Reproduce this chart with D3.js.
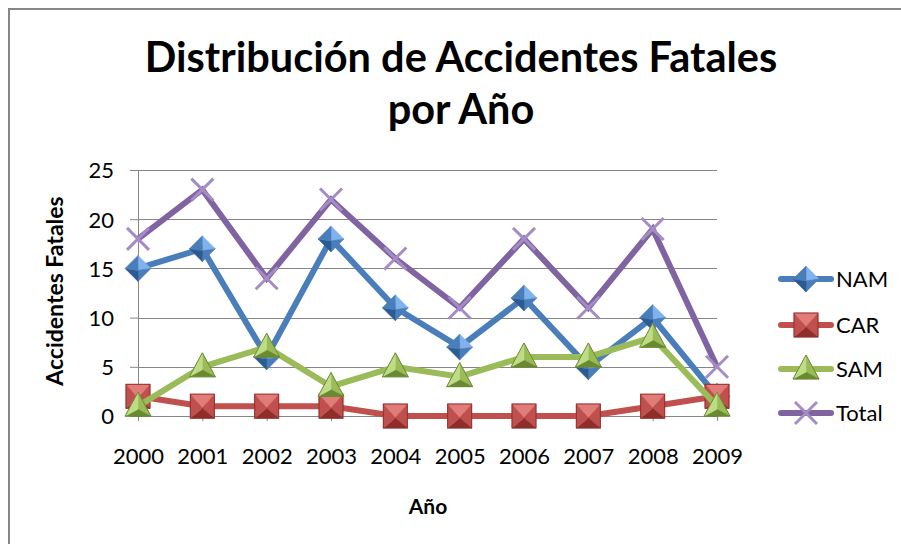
<!DOCTYPE html>
<html>
<head>
<meta charset="utf-8">
<script src="https://cdn.jsdelivr.net/npm/d3@7"></script>
<style>
  body { margin: 0; background: #fff; }
  svg text { font-family: Lato, "Open Sans", sans-serif; fill: #000; }
</style>
</head>
<body>
<svg id="chart" width="901" height="544"></svg>
<script>
// data
var years = ["2000", "2001", "2002", "2003", "2004", "2005", "2006", "2007", "2008", "2009"];
var nam   = [15, 17, 6, 18, 11, 7, 12, 5, 10, 2];
var car   = [2, 1, 1, 1, 0, 0, 0, 0, 1, 2];
var sam   = [1, 5, 7, 3, 5, 4, 6, 6, 8, 1];
var total = [18, 23, 14, 22, 16, 11, 18, 11, 19, 5];
var yTicks = [0, 5, 10, 15, 20, 25];

var series = [
  {name: "NAM",   values: nam,   color: "#4a7ebb", light: "#80b2ec", dark: "#2c5a92", marker: "diamond"},
  {name: "CAR",   values: car,   color: "#c0504d", light: "#e27c78", dark: "#8e2d2a", marker: "square"},
  {name: "SAM",   values: sam,   color: "#9bbb59", light: "#bedb86", dark: "#6a8a30", marker: "triangle"},
  {name: "Total", values: total, color: "#8064a2", light: "#a58cc4", dark: "#5e4680", marker: "x"}
];

var marg = {left: 138, right: 717, top: 170, bot: 416};
var svg = d3.select("#chart");

// outer chart border
svg.append("rect")
  .attr("x", 9).attr("y", 9).attr("width", 900).attr("height", 560)
  .attr("fill", "none").attr("stroke", "#868686").attr("stroke-width", 2);

var x = d3.scalePoint().domain(years).range([marg.left, marg.right]);
var y = d3.scaleLinear().domain([0, 25]).range([marg.bot, marg.top]);

// gridlines + y axis
var yAxis = d3.axisLeft(y).tickValues(yTicks).tickSize(8).tickPadding(16);
var yg = svg.append("g").attr("transform", "translate(" + marg.left + ",0)").call(yAxis);
yg.select(".domain").attr("stroke", "#868686");
yg.selectAll(".tick line").attr("stroke", "#868686");
yg.selectAll(".tick text").style("font-size", "22px").attr("dy", "0.36em");

svg.append("g").selectAll("line")
  .data(yTicks.filter(function(d) { return d > 0; }))
  .enter().append("line")
  .attr("x1", marg.left).attr("x2", marg.right)
  .attr("y1", function(d) { return Math.round(y(d)) + 0.5; })
  .attr("y2", function(d) { return Math.round(y(d)) + 0.5; })
  .attr("stroke", "#868686").attr("stroke-width", 1);

// x axis
var xAxis = d3.axisBottom(x).tickSize(5).tickPadding(27).tickSizeOuter(0);
var xg = svg.append("g").attr("transform", "translate(0," + marg.bot + ")").call(xAxis);
xg.select(".domain").attr("stroke", "#868686");
xg.selectAll(".tick line").attr("stroke", "#868686");
xg.selectAll(".tick text").style("font-size", "22px");

// titles
var title = svg.append("text").attr("text-anchor", "middle")
  .style("font-size", "41.5px").style("font-weight", "bold");
title.append("tspan").attr("x", 461).attr("y", 72).text("Distribución de Accidentes Fatales");
title.append("tspan").attr("x", 461).attr("y", 124).text("por Año");

svg.append("text").attr("text-anchor", "middle")
  .attr("transform", "translate(63,291) rotate(-90)")
  .style("font-size", "23px").style("font-weight", "bold")
  .text("Accidentes Fatales");

svg.append("text").attr("text-anchor", "middle")
  .attr("x", 428).attr("y", 514)
  .style("font-size", "21px").style("font-weight", "bold")
  .text("Año");

// markers: faces of a little bevelled shape
function drawMarker(g, s, cx, cy) {
  var r = 13;
  if (s.marker == "diamond") {
    var pts = [[cx, cy - r], [cx + r, cy], [cx, cy + r], [cx - r, cy]];
    var fills = [s.light, s.color, s.dark, s.color];
    faces(g, pts, cx, cy + 2, fills);
  } else if (s.marker == "square") {
    var h = 12;
    var pts = [[cx - h, cy - h], [cx + h, cy - h], [cx + h, cy + h], [cx - h, cy + h]];
    var fills = [s.light, s.color, s.dark, s.color];
    faces(g, pts, cx, cy + 2, fills);
    g.append("rect").attr("x", cx - h).attr("y", cy - h).attr("width", 2 * h).attr("height", 2 * h)
      .attr("fill", "none").attr("stroke", s.dark).attr("stroke-width", 1);
  } else if (s.marker == "triangle") {
    var pts = [[cx, cy - 14], [cx + 13, cy + 10], [cx - 13, cy + 10]];
    var fills = [s.color, s.dark, s.light];
    faces(g, pts, cx, cy + 3, fills);
    g.append("polygon").attr("points", pts.join(" "))
      .attr("fill", "none").attr("stroke", s.dark).attr("stroke-width", 1);
  } else {
    var k = 11;
    g.append("path")
      .attr("d", "M" + (cx - k) + "," + (cy - k) + "L" + (cx + k) + "," + (cy + k) +
                 "M" + (cx + k) + "," + (cy - k) + "L" + (cx - k) + "," + (cy + k))
      .attr("stroke", s.light).attr("stroke-width", 3).attr("fill", "none");
  }
}

function faces(g, pts, px, py, fills) {
  for (var i = 0; i < pts.length; i++) {
    var a = pts[i], b = pts[(i + 1) % pts.length];
    g.append("polygon")
      .attr("points", [a, b, [px, py]].join(" "))
      .attr("fill", fills[i]).attr("stroke", fills[i]).attr("stroke-width", 0.5);
  }
}

var line = d3.line()
  .x(function(d, i) { return x(years[i]); })
  .y(function(d) { return y(d); });

// draw series in order so later ones sit on top
for (var s of series) {
  var g = svg.append("g");
  g.append("path").datum(s.values)
    .attr("d", line)
    .attr("fill", "none").attr("stroke", s.color)
    .attr("stroke-width", 6).attr("stroke-linejoin", "miter");
  s.values.forEach(function(v, i) { drawMarker(g, s, x(years[i]), y(v)); });
}

// legend
var legY = [279, 325, 369, 413];
var leg = svg.append("g");
series.forEach(function(s, i) {
  var gl = leg.append("g");
  gl.append("line").attr("x1", 781).attr("x2", 831).attr("y1", legY[i]).attr("y2", legY[i])
    .attr("stroke", s.color).attr("stroke-width", 6).attr("stroke-linecap", "round");
  drawMarker(gl, s, 806, legY[i]);
  gl.append("text").attr("x", 836).attr("y", legY[i]).attr("dy", "0.36em")
    .style("font-size", "22px").text(s.name);
});
</script>
</body>
</html>
